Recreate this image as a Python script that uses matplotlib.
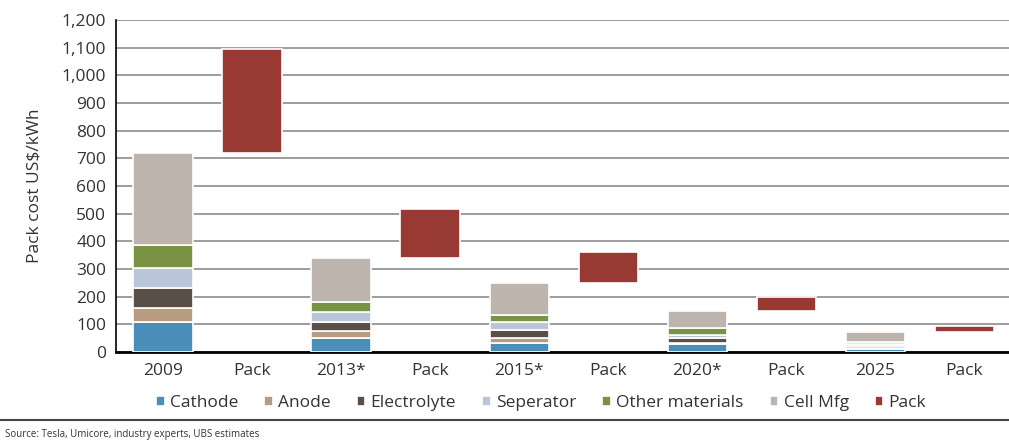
import numpy as np
import matplotlib.pyplot as plt

plt.rcParams['font.family'] = ['Open Sans', 'DejaVu Sans']

# x axis labels
labels = ['2009', 'Pack', '2013*', 'Pack', '2015*', 'Pack', '2020*', 'Pack', '2025', 'Pack']
years = ['2009', '2013*', '2015*', '2020*', '2025']

# cell cost components (US$/kWh) per year
cathode = [110, 50, 33, 28, 10]
anode = [50, 25, 18, 6, 4]
electrolyte = [70, 33, 28, 18, 8]
separator = [75, 37, 30, 9, 6]
other_materials = [80, 36, 26, 25, 8]
cell_mfg = [335, 160, 115, 62, 37]

# pack bars float from the cell total up to the pack total
pack_top = [1095, 517, 360, 198, 95]

series = [
    ('Cathode', cathode, '#4a8fba'),
    ('Anode', anode, '#b89c82'),
    ('Electrolyte', electrolyte, '#594f47'),
    ('Seperator', separator, '#b9c5d9'),
    ('Other materials', other_materials, '#7a9243'),
    ('Cell Mfg', cell_mfg, '#bdb5ad'),
]
pack_color = '#983a33'

fig = plt.figure(figsize=(10.09, 4.41), dpi=100)
ax = fig.add_axes([0.115, 0.2018, 0.885, 0.7528])

x_year = np.arange(len(years)) * 2
x_pack = x_year + 1
w = 0.67

bottom = np.zeros(len(years))
for name, vals, col in series:
    ax.bar(x_year, vals, w, bottom=bottom, color=col, edgecolor='white',
           linewidth=1.2, label=name, zorder=3)
    bottom += np.array(vals)

pack_h = np.array(pack_top) - bottom
ax.bar(x_pack, pack_h, w, bottom=bottom, color=pack_color, edgecolor='white',
       linewidth=1.2, label='Pack', zorder=3)

ax.set_xlim(-0.53, 9.5)
ax.set_ylim(0, 1200)
ax.set_yticks(np.arange(0, 1201, 100))
ax.set_yticklabels([f'{v:,}' for v in range(0, 1201, 100)])
ax.set_xticks(np.arange(len(labels)))
ax.set_xticklabels(labels)
ax.tick_params(axis='both', length=0, labelsize=12.5, colors='#333333')
ax.tick_params(axis='x', pad=8)
ax.tick_params(axis='y', pad=7)
ax.grid(axis='y', color='#8c8c8c', linewidth=1.2, zorder=0)
for s in ['top', 'right']:
    ax.spines[s].set_visible(False)
ax.spines['left'].set_color('black')
ax.spines['left'].set_linewidth(1.2)
ax.spines['bottom'].set_color('black')
ax.spines['bottom'].set_linewidth(2)
ax.set_ylabel('Pack cost US$/kWh', fontsize=12.5, color='#333333', labelpad=14)

ax.legend(loc='center', bbox_to_anchor=(0.476, -0.153), ncol=7, frameon=False,
          fontsize=12.5, handlelength=0.5, handleheight=0.5, handletextpad=0.3,
          columnspacing=1.5, labelcolor='#333333', borderaxespad=0)

fig.add_artist(plt.Line2D([0, 1], [1 - 420 / 441] * 2, color='#444444', linewidth=1.5))
fig.text(0.005, 1 - 434 / 441, 'Source: Tesla, Umicore, industry experts, UBS estimates',
         fontsize=7, color='#333333', va='center')

fig.savefig('out.png', dpi=100)
